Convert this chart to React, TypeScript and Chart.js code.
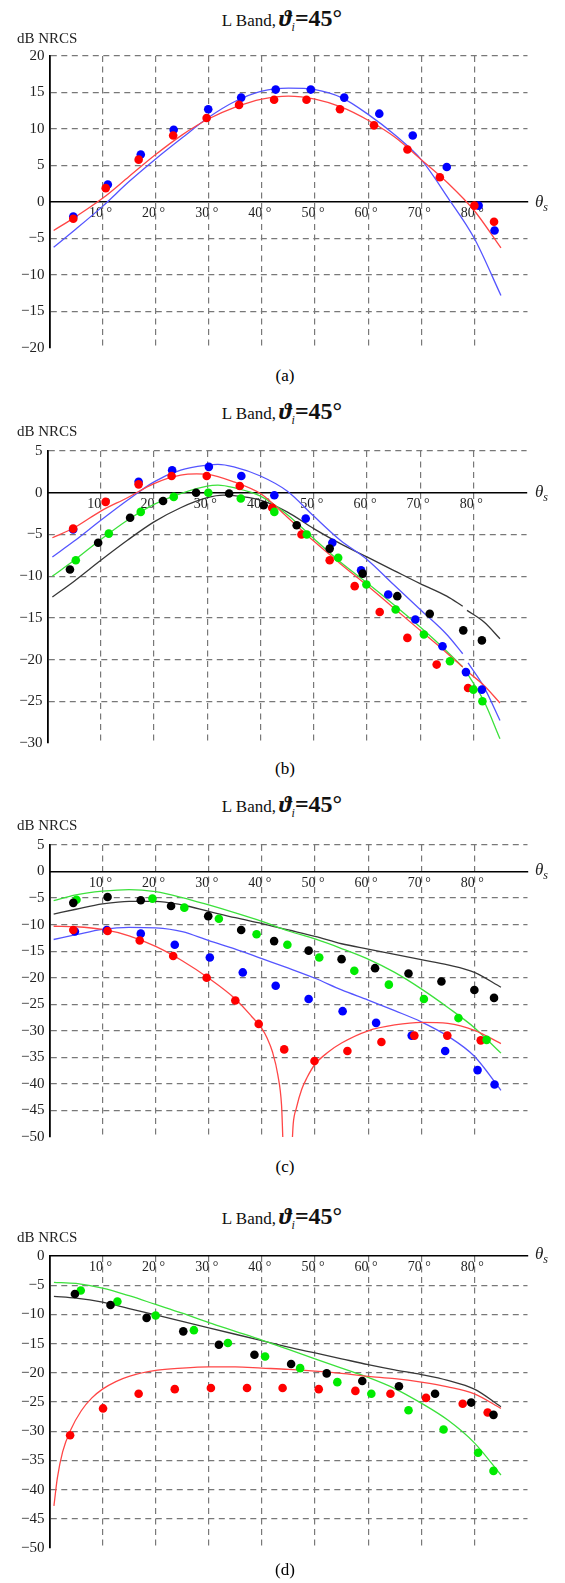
import React, { useEffect, useRef } from 'react';
import { Chart, registerables } from 'chart.js';

Chart.register(...registerables);

const FONT = '"Liberation Serif", "Times New Roman", "DejaVu Serif", serif';
const W = 565;

// ---------- Panel (a) ----------
const aRedDotX = [4.5, 10.6, 16.8, 23.3, 29.6, 35.7, 42.3, 48.4, 54.7, 61.1, 67.4, 73.5, 80.0, 83.7];
const aRedDotY = [-2.3, 1.9, 5.8, 9.1, 11.5, 13.3, 14.0, 14.0, 12.7, 10.5, 7.2, 3.4, -0.5, -2.7];
const aBlueDotX = [4.5, 11.0, 17.2, 23.4, 29.9, 36.1, 42.6, 49.2, 55.5, 62.1, 68.4, 74.8, 80.8, 83.8];
const aBlueDotY = [-2.0, 2.4, 6.5, 9.9, 12.7, 14.3, 15.4, 15.4, 14.3, 12.1, 9.1, 4.8, -0.5, -3.9];
const aCurveX = [0.8, 5, 10, 15, 20, 25, 30, 35, 40, 45, 50, 55, 60, 65, 70, 75, 80, 85];
const aRedCurveY = [-3.9, -2.0, 0.5, 3.5, 6.5, 9.2, 11.4, 13.0, 14.1, 14.5, 14.1, 13.0, 11.2, 8.9, 5.8, 2.6, -1.2, -6.3];
const aBlueCurveY = [-6.2, -3.7, -0.6, 2.8, 5.9, 8.8, 11.6, 13.8, 15.2, 15.6, 15.4, 14.3, 12.0, 9.2, 5.8, 0.6, -5.0, -12.8];

// ---------- Panel (b) ----------
const bRedDotX = [4.8, 10.9, 17.1, 23.3, 29.9, 36.1, 42.2, 47.7, 53.0, 57.7, 62.4, 67.6, 73.1, 79.0];
const bRedDotY = [-4.3, -1.1, 1.0, 2.0, 2.0, 0.8, -1.8, -5.0, -8.1, -11.2, -14.3, -17.4, -20.6, -23.4];
const bBlueDotX = [4.8, 17.1, 23.4, 30.3, 36.4, 42.6, 48.5, 53.5, 58.9, 64.0, 69.1, 74.2, 78.6, 81.6];
const bBlueDotY = [-4.4, 1.3, 2.7, 3.1, 2.0, -0.3, -3.1, -6.0, -9.3, -12.2, -15.2, -18.4, -21.5, -23.6];
const bGreenDotX = [5.3, 11.5, 17.5, 23.7, 30.2, 36.3, 42.6, 48.7, 54.6, 59.9, 65.4, 70.7, 75.6, 80.0, 81.7];
const bGreenDotY = [-8.1, -4.9, -2.3, -0.5, 0.0, -0.7, -2.3, -5.0, -7.8, -11.0, -14.0, -17.0, -20.2, -23.6, -25.0];
const bBlackDotX = [4.2, 9.5, 15.5, 21.7, 27.9, 34.1, 40.6, 46.8, 53.0, 59.2, 65.7, 71.8, 78.1, 81.6];
const bBlackDotY = [-9.2, -6.0, -3.0, -1.0, 0.0, -0.1, -1.5, -3.9, -6.7, -9.7, -12.4, -14.5, -16.5, -17.7];
const bRedCurveX = [0.9, 5, 10, 15, 20, 25, 28, 30, 35, 40, 45, 50, 55, 60, 65, 70, 75, 78, 78.5, 79, 82, 85];
const bRedCurveY = [-5.4, -4.2, -2.2, -0.6, 1.1, 2.1, 2.25, 2.2, 1.3, -0.1, -2.9, -5.8, -8.5, -11.1, -13.8, -16.5, -19.2, -20.9, null, -21.5, -23.1, -25.2];
const bBlueCurveX = [0.9, 5, 10, 15, 20, 25, 30, 32, 35, 40, 45, 50, 55, 60, 65, 70, 75, 78, 78.5, 79, 82, 85];
const bBlueCurveY = [-7.7, -5.8, -3.3, -0.9, 1.3, 2.7, 3.3, 3.4, 3.1, 2.0, 0.2, -2.8, -5.7, -8.0, -11.0, -14.0, -17.0, -19.3, null, -20.4, -23.3, -27.3];
const bGreenCurveX = [0.9, 5, 10, 15, 20, 25, 30, 32, 35, 40, 45, 50, 55, 60, 65, 70, 75, 78, 78.5, 79, 82, 85];
const bGreenCurveY = [-10.0, -8.1, -5.6, -3.3, -1.4, -0.1, 0.8, 0.9, 0.6, -0.4, -2.6, -5.5, -8.3, -10.8, -13.4, -16.1, -19.0, -20.9, null, -21.8, -25.0, -29.5];
const bBlackCurveX = [0.9, 5, 10, 15, 20, 25, 30, 33, 35, 40, 45, 50, 55, 60, 65, 70, 75, 78, 78.4, 78.8, 82, 85];
const bBlackCurveY = [-12.5, -10.6, -8.1, -5.7, -3.5, -1.8, -0.6, -0.3, -0.35, -0.9, -2.3, -4.3, -6.1, -7.7, -9.3, -10.9, -12.4, -13.6, null, -14.1, -15.5, -17.5];

// ---------- Panel (c) ----------
const cRedDotX = [4.5, 10.95, 17.0, 23.3, 29.6, 35.0, 39.4, 44.2, 49.9, 56.1, 62.5, 68.7, 74.9, 81.2];
const cRedDotY = [-11.0, -11.2, -13.0, -15.9, -20.0, -24.3, -28.7, -33.5, -35.7, -33.8, -32.1, -30.9, -30.9, -31.8];
const cBlueDotX = [4.8, 10.8, 17.2, 23.6, 30.2, 36.4, 42.6, 48.8, 55.2, 61.5, 68.2, 74.5, 80.6, 83.8];
const cBlueDotY = [-11.3, -11.0, -11.7, -13.8, -16.2, -19.0, -21.5, -24.0, -26.3, -28.5, -30.9, -33.8, -37.4, -40.1];
const cGreenDotX = [5.1, 19.4, 25.4, 31.9, 39.0, 44.8, 50.8, 57.4, 63.9, 70.5, 77.0, 82.3];
const cGreenDotY = [-5.3, -5.1, -6.8, -8.9, -11.8, -13.8, -16.2, -18.7, -21.3, -24.0, -27.6, -31.7];
const cBlackDotX = [4.5, 10.95, 17.2, 22.9, 29.9, 36.1, 42.3, 48.8, 55.0, 61.3, 67.6, 73.8, 80.0, 83.7];
const cBlackDotY = [-5.9, -4.8, -5.4, -6.5, -8.4, -11.0, -13.1, -14.9, -16.5, -18.2, -19.2, -20.7, -22.3, -23.8];
const cCurveX = [0.8, 5, 10, 15, 20, 25, 30, 35, 40, 45, 50, 55, 60, 65, 70, 75, 80, 85];
const cGreenCurveY = [-5.5, -4.4, -3.7, -3.4, -3.8, -4.9, -6.3, -7.8, -9.4, -11.2, -12.7, -14.5, -16.5, -19.0, -22.1, -25.6, -29.4, -34.2];
const cBlackCurveY = [-8.0, -7.1, -6.1, -5.6, -5.6, -6.3, -7.5, -8.7, -9.8, -11.0, -12.2, -13.6, -14.6, -15.6, -16.6, -17.6, -19.0, -21.8];
const cBlueCurveY = [-12.8, -11.9, -10.9, -10.5, -10.6, -11.3, -13.0, -14.6, -16.4, -18.2, -20.1, -22.3, -24.2, -26.2, -28.3, -31.0, -34.8, -41.2];
const cRedCurveX = [0.8, 5, 10, 15, 20, 25, 30, 35, 38, 40, 41, 42, 43, 43.7, 44.3, 45.3, 45.9, 46.5, 47.5, 48.5, 50, 52.5, 55, 60, 65, 70, 75, 80, 85];
const cRedCurveY = [-10.3, -10.4, -10.9, -12.1, -14.1, -16.8, -20.1, -24.0, -27.2, -29.6, -31.4, -34.0, -38.3, -44.0, -58, -58, -47.5, -44.5, -41.0, -38.8, -36.3, -34.0, -32.3, -30.0, -28.9, -28.4, -28.6, -29.9, -32.4];

// ---------- Panel (d) ----------
const dBlackDotX = [4.8, 11.5, 18.3, 25.2, 31.9, 38.6, 45.5, 52.2, 58.9, 65.8, 72.6, 79.4, 83.6];
const dBlackDotY = [-6.5, -8.4, -10.6, -12.9, -15.2, -16.9, -18.5, -20.1, -21.4, -22.3, -23.6, -25.1, -27.2];
const dGreenDotX = [5.9, 12.8, 20.0, 27.2, 33.6, 40.6, 47.2, 54.2, 60.6, 67.6, 74.2, 80.7, 83.6];
const dGreenDotY = [-5.9, -7.8, -10.2, -12.7, -14.9, -17.2, -19.2, -21.6, -23.6, -26.4, -29.7, -33.7, -36.8];
const dRedDotX = [3.9, 10.1, 16.8, 23.6, 30.4, 37.2, 43.9, 50.7, 57.6, 64.2, 70.9, 77.8, 82.5];
const dRedDotY = [-30.7, -26.1, -23.6, -22.8, -22.6, -22.6, -22.6, -22.8, -23.1, -23.6, -24.3, -25.3, -26.8];
const dCurveX = [0.85, 5, 10, 15, 20, 25, 30, 35, 40, 45, 50, 55, 60, 65, 70, 75, 80, 85];
const dGreenCurveY = [-4.5, -4.7, -5.5, -6.8, -8.3, -9.8, -11.4, -12.9, -14.4, -16.0, -17.6, -19.2, -20.8, -22.7, -25.2, -28.1, -32.0, -37.5];
const dBlackCurveY = [-6.9, -7.2, -7.9, -9.0, -10.1, -11.2, -12.3, -13.4, -14.5, -15.6, -16.6, -17.6, -18.6, -19.5, -20.3, -21.3, -22.8, -25.8];
const dRedCurveX = [0.85, 1.5, 2.5, 4, 6, 8, 10, 12.5, 15, 20, 25, 30, 35, 40, 45, 50, 55, 60, 65, 70, 75, 80, 85];
const dRedCurveY = [-42.8, -38.0, -33.5, -29.8, -26.5, -24.3, -22.8, -21.5, -20.6, -19.6, -19.2, -19.0, -19.0, -19.2, -19.4, -19.7, -20.1, -20.6, -21.0, -21.6, -22.4, -23.6, -26.1];

// x ticks / y steps
const X_MIN = 0;
const X_MAX = 90;
const X_STEP = 10;
const Y_STEP = 5;

// colours
const DOT_RED = 'rgb(255,0,0)';
const DOT_BLUE = 'rgb(0,0,255)';
const DOT_GREEN = 'rgb(0,235,0)';
const DOT_BLACK = 'rgb(0,0,0)';
const LINE_RED = 'rgb(255,70,70)';
const LINE_BLUE = 'rgb(85,85,255)';
const LINE_GREEN = 'rgb(60,225,60)';
const LINE_BLACK = 'rgb(55,55,55)';

type S = { xs: number[]; ys: (number | null)[]; color: string };
type PanelSpec = {
  plotTop: number; plotBottom: number; left: number; right: number;
  yMin: number; yMax: number;
  dots: S[]; curves: S[];
  titleY: number; dbY: number; captionY: number; caption: string;
};

const PANELS: PanelSpec[] = [
  {
    plotTop: 54.3, plotBottom: 350, left: 49.4, right: 527.5, yMin: -20, yMax: 20,
    dots: [
      { xs: aRedDotX, ys: aRedDotY, color: DOT_RED },
      { xs: aBlueDotX, ys: aBlueDotY, color: DOT_BLUE },
    ],
    curves: [
      { xs: aCurveX, ys: aRedCurveY, color: LINE_RED },
      { xs: aCurveX, ys: aBlueCurveY, color: LINE_BLUE },
    ],
    titleY: 18, dbY: 38, captionY: 375, caption: '(a)',
  },
  {
    plotTop: 449.3, plotBottom: 745, left: 47.6, right: 526.6, yMin: -30, yMax: 5,
    dots: [
      { xs: bBlackDotX, ys: bBlackDotY, color: DOT_BLACK },
      { xs: bGreenDotX, ys: bGreenDotY, color: DOT_GREEN },
      { xs: bRedDotX, ys: bRedDotY, color: DOT_RED },
      { xs: bBlueDotX, ys: bBlueDotY, color: DOT_BLUE },
    ],
    curves: [
      { xs: bRedCurveX, ys: bRedCurveY, color: LINE_RED },
      { xs: bBlueCurveX, ys: bBlueCurveY, color: LINE_BLUE },
      { xs: bGreenCurveX, ys: bGreenCurveY, color: LINE_GREEN },
      { xs: bBlackCurveX, ys: bBlackCurveY, color: LINE_BLACK },
    ],
    titleY: 411, dbY: 431, captionY: 768, caption: '(b)',
  },
  {
    plotTop: 843.3, plotBottom: 1138.3, left: 49.4, right: 527.5, yMin: -50, yMax: 5,
    dots: [
      { xs: cBlackDotX, ys: cBlackDotY, color: DOT_BLACK },
      { xs: cGreenDotX, ys: cGreenDotY, color: DOT_GREEN },
      { xs: cRedDotX, ys: cRedDotY, color: DOT_RED },
      { xs: cBlueDotX, ys: cBlueDotY, color: DOT_BLUE },
    ],
    curves: [
      { xs: cRedCurveX, ys: cRedCurveY, color: LINE_RED },
      { xs: cCurveX, ys: cBlueCurveY, color: LINE_BLUE },
      { xs: cCurveX, ys: cGreenCurveY, color: LINE_GREEN },
      { xs: cCurveX, ys: cBlackCurveY, color: LINE_BLACK },
    ],
    titleY: 804, dbY: 825, captionY: 1166, caption: '(c)',
  },
  {
    plotTop: 1254.3, plotBottom: 1549.3, left: 49.4, right: 527.5, yMin: -50, yMax: 0,
    dots: [
      { xs: dBlackDotX, ys: dBlackDotY, color: DOT_BLACK },
      { xs: dGreenDotX, ys: dGreenDotY, color: DOT_GREEN },
      { xs: dRedDotX, ys: dRedDotY, color: DOT_RED },
    ],
    curves: [
      { xs: dRedCurveX, ys: dRedCurveY, color: LINE_RED },
      { xs: dCurveX, ys: dGreenCurveY, color: LINE_GREEN },
      { xs: dCurveX, ys: dBlackCurveY, color: LINE_BLACK },
    ],
    titleY: 1216, dbY: 1237, captionY: 1569, caption: '(d)',
  },
];

const zip = (xs: number[], ys: (number | null)[]) => xs.map((x, i) => ({ x, y: ys[i] }));
const PAD = 12;
const GRID = 'rgb(120,120,120)';
const CLEAR = 'rgba(0,0,0,0)';
const DASH = [6, 4.5];

function PlotCanvas({ p }: { p: PanelSpec }) {
  const ref = useRef<HTMLCanvasElement>(null);
  const canvasTop = Math.floor(p.plotTop) - PAD;
  const canvasH = Math.ceil(p.plotBottom) + PAD - canvasTop;

  useEffect(() => {
    if (!ref.current) return;
    const datasets: any[] = [
      ...p.dots.map((s) => ({
        data: zip(s.xs, s.ys),
        showLine: false,
        pointRadius: 4.3,
        pointBorderWidth: 0,
        pointBackgroundColor: s.color,
        backgroundColor: s.color,
        borderColor: s.color,
      })),
      ...p.curves.map((s) => ({
        data: zip(s.xs, s.ys),
        showLine: true,
        pointRadius: 0,
        borderColor: s.color,
        backgroundColor: s.color,
        borderWidth: 1.3,
        cubicInterpolationMode: 'monotone',
        spanGaps: false,
        fill: false,
      })),
    ];
    const chart = new Chart(ref.current, {
      type: 'scatter',
      data: { datasets },
      options: {
        responsive: false,
        animation: false,
        devicePixelRatio: 1,
        events: [],
        layout: {
          padding: {
            top: p.plotTop - canvasTop,
            bottom: canvasTop + canvasH - p.plotBottom,
            left: 0,
            right: W - p.right,
          },
        },
        plugins: { legend: { display: false }, tooltip: { enabled: false }, title: { display: false } },
        scales: {
          x: {
            type: 'linear',
            min: X_MIN,
            max: X_MAX,
            position: { y: 0 } as any,
            ticks: {
              stepSize: X_STEP,
              autoSkip: false,
              maxRotation: 0,
              padding: 3,
              labelOffset: -2,
              color: '#222',
              font: { family: FONT, size: 14 },
              callback: (v: any) => (v === X_MIN || v === X_MAX ? '' : `${v} °`),
            },
            grid: {
              drawTicks: false,
              lineWidth: 1.2,
              color: (c: any) => (c.tick && (c.tick.value === X_MIN || c.tick.value === X_MAX) ? CLEAR : GRID),
            },
            border: { display: true, color: '#000', width: 1.5, dash: DASH },
          },
          y: {
            type: 'linear',
            min: p.yMin,
            max: p.yMax,
            position: 'left',
            afterFit: (s: any) => { s.width = p.left; },
            ticks: {
              stepSize: Y_STEP,
              padding: 5,
              color: '#222',
              font: { family: FONT, size: 15 },
              callback: (v: any) => (v < 0 ? '\u2212' + Math.abs(v) : String(v)),
            },
            grid: {
              drawTicks: false,
              lineWidth: 1.2,
              color: (c: any) => (c.tick && (c.tick.value === p.yMin || c.tick.value === 0) ? CLEAR : GRID),
            },
            border: { display: true, color: '#000', width: 1.8, dash: DASH },
          },
        },
      } as any,
    });
    return () => chart.destroy();
  }, []);

  return (
    <canvas
      ref={ref}
      width={W}
      height={canvasH}
      style={{ position: 'absolute', left: 0, top: canvasTop, width: W, height: canvasH }}
    />
  );
}

function Title({ y }: { y: number }) {
  return (
    <div
      style={{
        position: 'absolute', left: 282, top: y, transform: 'translate(-50%, -50%)',
        whiteSpace: 'nowrap', lineHeight: 1, color: '#111',
      }}
    >
      <span style={{ fontSize: 17 }}>L Band,</span>
      <span style={{ fontSize: 24, fontWeight: 700, fontStyle: 'italic', marginLeft: 3 }}>ϑ</span>
      <span style={{ fontSize: 12, fontStyle: 'italic', position: 'relative', top: 5 }}>i</span>
      <span style={{ fontSize: 24, fontWeight: 700 }}>=45°</span>
    </div>
  );
}

export default function App() {
  return (
    <div
      style={{
        position: 'absolute', left: 0, top: 0, width: W, height: 1583, background: '#fff',
        overflow: 'hidden', fontFamily: FONT, color: '#000',
      }}
    >
      {PANELS.map((p, i) => {
        const zeroY = p.plotTop + (p.yMax / (p.yMax - p.yMin)) * (p.plotBottom - p.plotTop);
        return (
          <React.Fragment key={i}>
            <PlotCanvas p={p} />
            <Title y={p.titleY} />
            <div
              style={{
                position: 'absolute', left: 17, top: p.dbY, transform: 'translateY(-50%)',
                fontSize: 15, lineHeight: 1, whiteSpace: 'nowrap', color: '#222',
              }}
            >
              dB NRCS
            </div>
            <div
              style={{
                position: 'absolute', left: 535, top: zeroY - 1, transform: 'translateY(-50%)',
                lineHeight: 1, whiteSpace: 'nowrap', color: '#222',
              }}
            >
              <span style={{ fontSize: 17, fontStyle: 'italic' }}>θ</span>
              <span style={{ fontSize: 12, fontStyle: 'italic', position: 'relative', top: 4 }}>s</span>
            </div>
            <div
              style={{
                position: 'absolute', left: 285, top: p.captionY, transform: 'translate(-50%, -50%)',
                fontSize: 17, lineHeight: 1, whiteSpace: 'nowrap',
              }}
            >
              {p.caption}
            </div>
          </React.Fragment>
        );
      })}
    </div>
  );
}
